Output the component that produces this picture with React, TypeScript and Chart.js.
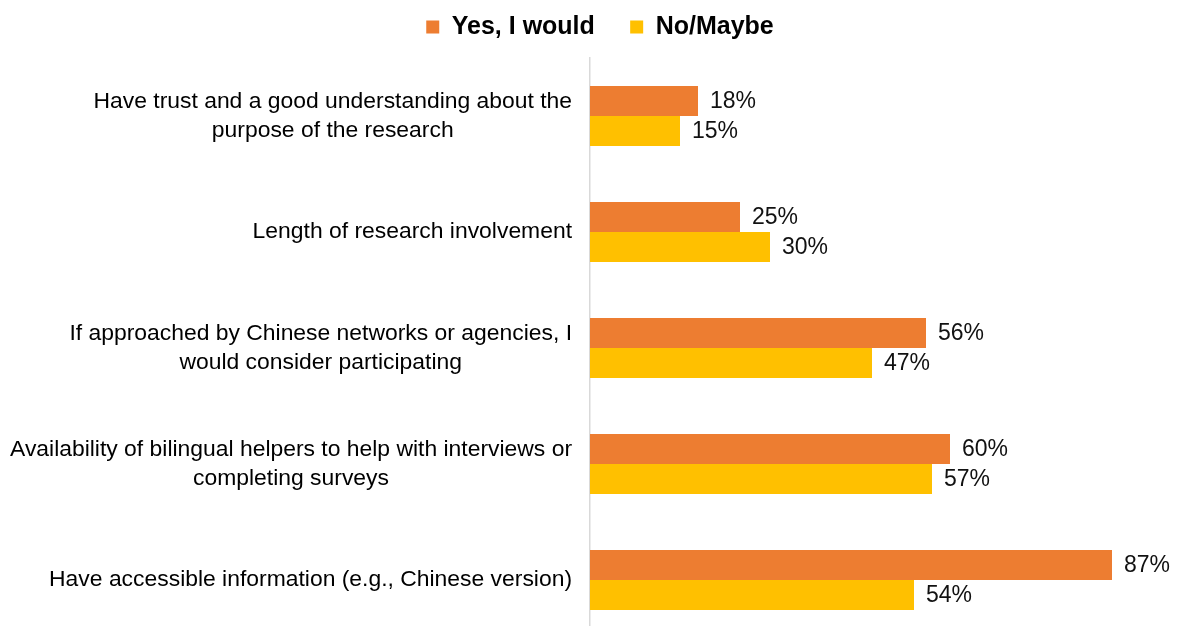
import React, { useEffect, useRef } from "react";
import { Chart, registerables } from "chart.js";

Chart.register(...registerables);

const categories: (string | string[])[] = [
  ["Have trust and a good understanding about the", "purpose of the research"],
  "Length of research involvement",
  ["If approached by Chinese networks or agencies, I", "would consider participating"],
  ["Availability of bilingual helpers to help with interviews or", "completing surveys"],
  "Have accessible information (e.g., Chinese version)",
];
const yesValues = [18, 25, 56, 60, 87];
const noValues = [15, 30, 47, 57, 54];
const seriesNames = ["Yes, I would", "No/Maybe"];

const FONT = "'Liberation Sans', Arial, Helvetica, sans-serif";

// Right-aligned label blocks whose lines are centred among themselves (Excel style)
const centeredBlockLabels = {
  id: "centeredBlockLabels",
  beforeDraw(chart: any) {
    const s = chart.scales.y;
    if (!s) return;
    const items = s.getLabelItems(chart.chartArea);
    const sizes = s._getLabelSizes();
    items.forEach((it: any, i: number) => {
      if (it._centred) return;
      const w = sizes.widths[i] || 0;
      const [tx, ty] = it.options.translation;
      it.options = { ...it.options, textAlign: "center", translation: [tx - w / 2, ty] };
      it._centred = true;
    });
  },
};

const valueLabelPlugin = {
  id: "valueLabels",
  afterDatasetsDraw(chart: any) {
    const ctx = chart.ctx;
    ctx.save();
    ctx.font = `23px ${FONT}`;
    ctx.fillStyle = "#111";
    ctx.textAlign = "left";
    ctx.textBaseline = "middle";
    chart.data.datasets.forEach((ds: any, i: number) => {
      const meta = chart.getDatasetMeta(i);
      meta.data.forEach((bar: any, j: number) => {
        ctx.fillText(`${ds.data[j]}%`, bar.x + 12, bar.y + 1);
      });
    });
    ctx.restore();
  },
};

export default function App() {
  const ref = useRef<HTMLCanvasElement | null>(null);
  useEffect(() => {
    if (!ref.current) return;
    const chart = new Chart(ref.current, {
      type: "bar",
      data: {
        labels: categories,
        datasets: [
          {
            label: seriesNames[0],
            data: yesValues,
            backgroundColor: "#ED7D31",
            borderWidth: 0,
            categoryPercentage: 0.517,
            barPercentage: 1,
          },
          {
            label: seriesNames[1],
            data: noValues,
            backgroundColor: "#FFC000",
            borderWidth: 0,
            categoryPercentage: 0.517,
            barPercentage: 1,
          },
        ],
      },
      options: {
        indexAxis: "y",
        responsive: false,
        maintainAspectRatio: false,
        animation: false,
        devicePixelRatio: 1,
        layout: { padding: { top: 0, left: 0, right: -22, bottom: 2 } },
        plugins: {
          legend: {
            display: true,
            position: "top",
            labels: {
              boxWidth: 13,
              boxHeight: 13,
              padding: 14.5,
              color: "#000",
              font: { family: FONT, size: 25, weight: "bold" },
              generateLabels: (chart: any) => {
                const items = Chart.defaults.plugins.legend.labels.generateLabels(chart);
                return items.map((it: any, i: number) =>
                  i === 0 ? { ...it, text: it.text + "   " } : it
                );
              },
            },
          },
          tooltip: { enabled: false },
        },
        scales: {
          x: {
            position: "top",
            min: 0,
            max: 98,
            grid: { display: false, drawTicks: false },
            border: { display: false },
            ticks: { display: false },
            afterFit: (s: any) => {
              s.height = 8.5;
            },
          },
          y: {
            grid: { display: false, drawTicks: false, tickLength: 0 },
            border: { display: true, color: "#d9d9d9", width: 1.5 },
            ticks: {
              crossAlign: "near",
              padding: 18,
              color: "#000",
              font: { family: FONT, size: 22.9, lineHeight: 1.25 },
            },
            afterFit: (s: any) => {
              s.width = 590;
              s.paddingTop = 0;
              s.paddingBottom = 0;
            },
          },
        },
      },
      plugins: [centeredBlockLabels, valueLabelPlugin],
    });
    return () => chart.destroy();
  }, []);

  return (
    <div
      style={{
        position: "fixed",
        top: 0,
        left: 0,
        width: 1178,
        height: 626,
        overflow: "hidden",
        background: "#fff",
      }}
    >
      <canvas
        ref={ref}
        width={1178}
        height={640}
        style={{ display: "block", width: 1178, height: 640 }}
      />
    </div>
  );
}
